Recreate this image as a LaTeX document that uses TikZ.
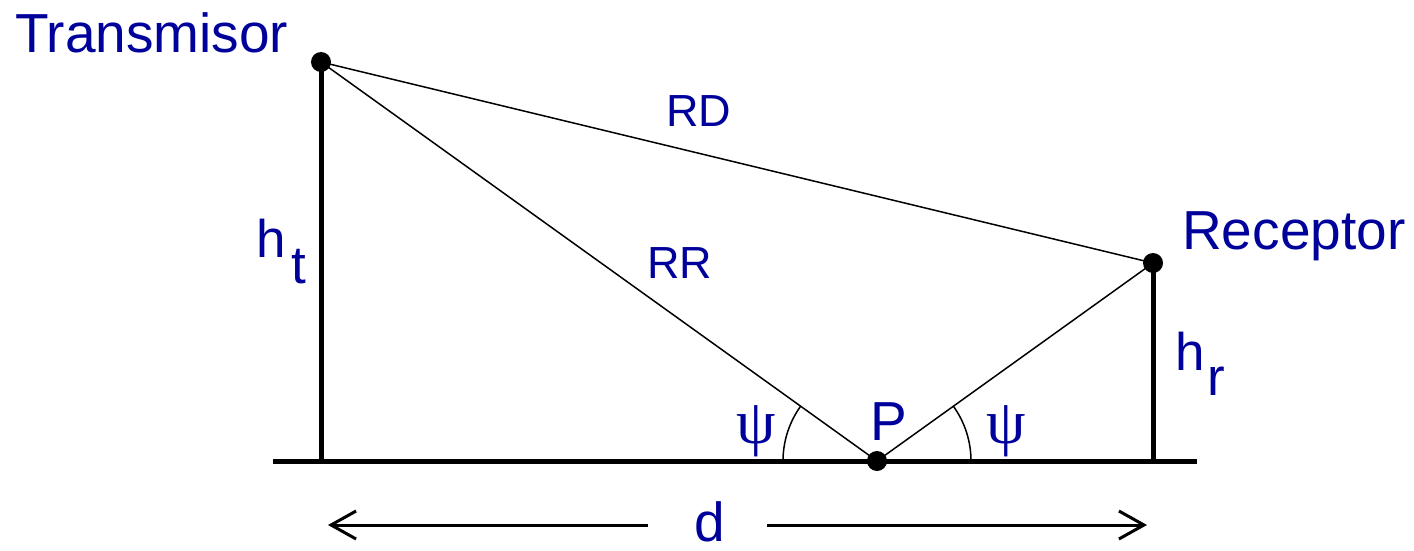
\documentclass[tikz,border=0pt]{standalone}
\usepackage{fontspec}
\setmainfont{Liberation Sans}
\newfontfamily\psifont{Liberation Serif}
\usetikzlibrary{arrows.meta}
\definecolor{lbl}{RGB}{0,0,155}
\begin{document}
\begin{tikzpicture}[x=1pt,y=-1pt,
  lab/.style={text=lbl,inner sep=0pt,anchor=base west},
  big/.style={lab,font=\fontsize{55}{60}\selectfont},
  mid/.style={lab,font=\fontsize{45}{50}\selectfont},
  psil/.style={lab,font=\fontsize{63}{68}\psifont},
  pole/.style={line width=5pt},
  ray/.style={line width=1.5pt},
  dotc/.style={circle,fill=black,inner sep=0pt,minimum size=20pt},
  dim/.style={line width=3pt,-{Straight Barb[length=25pt,width=28pt,line width=3pt]}}]
\useasboundingbox (0,0) rectangle (1414,551);
% ground
\coordinate (G1) at (273,461);
\coordinate (G2) at (1197,461);
\coordinate (Tb) at (321,461);
\coordinate (Rb) at (1153,461);
\coordinate (T) at (321,62);
\coordinate (R) at (1153,263);
\coordinate (P) at (877,461);
\draw[pole] (G1) -- (G2);
\draw[pole] (Tb) -- (T);
\draw[pole] (Rb) -- (R);
\draw[ray] (T) -- (R);
\draw[ray] (T) -- (P);
\draw[ray] (P) -- (R);
% angle arcs
\draw[ray] ([shift={(144.34:94pt)}]P) arc[start angle=144.34, end angle=180, radius=94pt];
\draw[ray] ([shift={(0:94pt)}]P) arc[start angle=0, end angle=35.65, radius=94pt];
% dots
\node[dotc] (Td) at (T) {};
\node[dotc] (Rd) at (R) {};
\node[dotc] (Pd) at (P) {};
% labels
\node[big] (lT) at (15,53) {Transmisor};
\node[big] (lR) at (1182,249) {Receptor};
\node[mid] (lRD) at (666,126) {RD};
\node[mid] (lRR) at (647,278) {RR};
\node[big] (lP) at (870,440) {P};
\node[psil] (psi1) at (736,443) {ψ};
\node[psil] (psi2) at (986,443) {ψ};
\node[big,font=\fontsize{53}{60}\selectfont] (ht) at (256,257) {h};
\node[big,font=\fontsize{53}{60}\selectfont] (ht2) at (291,283) {t};
\node[big,font=\fontsize{53}{60}\selectfont] (hr) at (1175,370) {h};
\node[big,font=\fontsize{53}{60}\selectfont] (hr2) at (1207,395) {r};
\node[big,text depth=0pt] (ld) at (694,541) {d};
% dimension arrows
\coordinate (A1) at (648,525);
\coordinate (A1e) at (328,525);
\coordinate (A2) at (767,525);
\coordinate (A2e) at (1147,525);
\draw[dim] (A1) -- (A1e);
\draw[dim] (A2) -- (A2e);
\end{tikzpicture}
\end{document}
